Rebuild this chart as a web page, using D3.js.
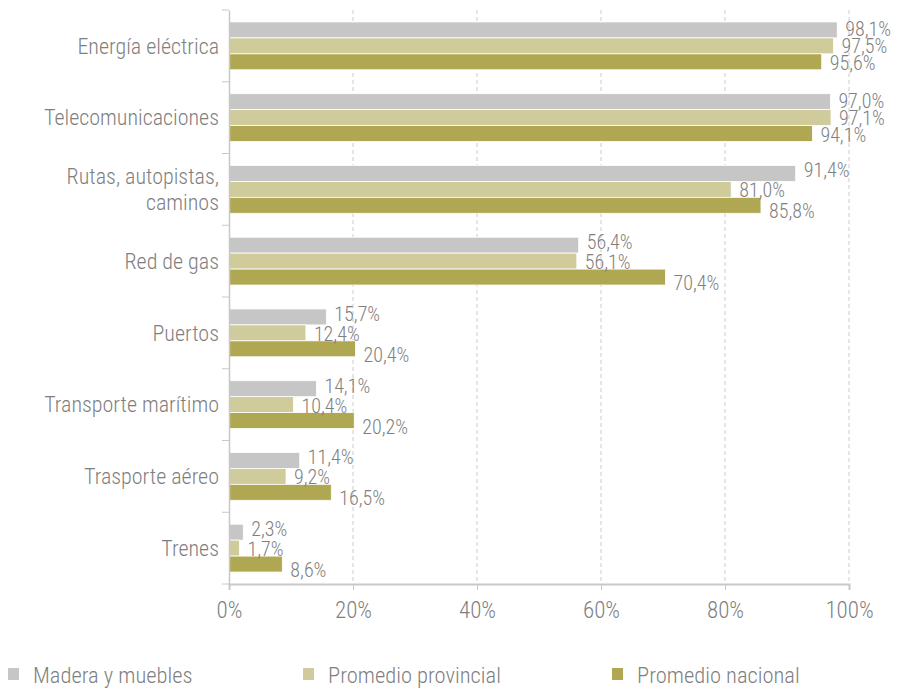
<!DOCTYPE html>
<html><head><meta charset="utf-8">
<script src="https://cdn.jsdelivr.net/npm/d3@7"></script>
<style>
body{margin:0;background:#fff;}
text{font-family:"Roboto Condensed","Liberation Sans Narrow","DejaVu Sans Condensed",sans-serif;fill:#7f7f7f;font-weight:300;}
</style></head><body>
<svg id="c" width="902" height="691"></svg>
<script>
const categories = ["Energía eléctrica","Telecomunicaciones","Rutas, autopistas, caminos","Red de gas","Puertos","Transporte marítimo","Trasporte aéreo","Trenes"];
const seriesNames = ["Madera y muebles","Promedio provincial","Promedio nacional"];
const madera = [98.1,97.0,91.4,56.4,15.7,14.1,11.4,2.3];
const provincial = [97.5,97.1,81.0,56.1,12.4,10.4,9.2,1.7];
const nacional = [95.6,94.1,85.8,70.4,20.4,20.2,16.5,8.6];
const ticks = [0,20,40,60,80,100];
const colors = ["#c6c6c6","#cfcb9b","#b0a752"];
const allSeries = [madera, provincial, nacional];
const FONT = '"Roboto Condensed","Liberation Sans Narrow","DejaVu Sans Condensed",sans-serif';

const svg = d3.select("#c");
const x = d3.scaleLinear().domain([0,100]).range([229,849]);
const y = d3.scaleBand().domain(categories).range([10,584]).paddingInner(0).paddingOuter(0);
const inner = d3.scaleBand().domain([0,1,2]).range([0,y.bandwidth()]).paddingInner(0).paddingOuter(0.75);

// gridlines
svg.append("g").selectAll("line").data(ticks.slice(1)).join("line")
  .attr("x1",d=>x(d)).attr("x2",d=>x(d)).attr("y1",10).attr("y2",584)
  .attr("stroke","#cccccc").attr("stroke-width",1).attr("stroke-dasharray","4,3");

// bars
categories.forEach((c,i)=>{
  allSeries.forEach((s,j)=>{
    svg.append("rect").attr("x",x(0)).attr("y",y(c)+inner(j))
      .attr("width",x(s[i])-x(0)).attr("height",inner.bandwidth())
      .attr("fill",colors[j]).attr("stroke","#fff").attr("stroke-width",0.8);
  });
});

// value labels
categories.forEach((c,i)=>{
  allSeries.forEach((s,j)=>{
    const off = i<2 ? (j-1) : (j===0?-3:(j===2?6:1));
    svg.append("text").attr("x",x(s[i])+8).attr("y",y(c)+inner(j)+inner.bandwidth()/2+off)
      .attr("dy","0.35em").attr("font-size",20).text(s[i].toFixed(1).replace(".",",")+"%");
  });
});

// left axis
const yAxis = svg.append("g").attr("transform","translate(229,0)")
  .call(d3.axisLeft(y).tickSize(0).tickFormat(""));
yAxis.select(".domain").attr("stroke","#c8c8c8").attr("stroke-width",1.5);
// band boundary ticks
svg.append("g").selectAll("line").data(d3.range(categories.length+1)).join("line")
  .attr("x1",222).attr("x2",229).attr("y1",d=>10+d*y.bandwidth()).attr("y2",d=>10+d*y.bandwidth())
  .attr("stroke","#c8c8c8").attr("stroke-width",1);

// category labels
categories.forEach(c=>{
  const t = svg.append("text").attr("text-anchor","end").attr("font-size",22)
    .attr("x",219).attr("y",y(c)+y.bandwidth()/2);
  if(c==="Rutas, autopistas, caminos"){
    t.append("tspan").attr("x",219).attr("dy","-0.25em").text("Rutas, autopistas,");
    t.append("tspan").attr("x",219).attr("dy","1.2em").text("caminos");
  } else {
    t.attr("dy","0.35em").text(c);
  }
});

// bottom axis
const xAxis = svg.append("g").attr("transform","translate(0,584)")
  .call(d3.axisBottom(x).tickValues(ticks).tickSize(6).tickFormat(d=>d+"%"));
xAxis.select(".domain").attr("stroke","#c8c8c8").attr("stroke-width",2);
xAxis.selectAll(".tick line").attr("stroke","#c8c8c8");
xAxis.selectAll(".tick text").attr("font-size",23).attr("dy","1.1em").attr("fill","#7f7f7f")
  .style("font-family",FONT).style("font-weight",300);

// legend
const legX = [8,303,612];
seriesNames.forEach((n,j)=>{
  svg.append("rect").attr("x",legX[j]).attr("y",668).attr("width",11).attr("height",12).attr("fill",colors[j]);
  svg.append("text").attr("x",legX[j]+25).attr("y",675).attr("dy","0.35em").attr("font-size",22.5).text(n);
});
</script>
</body></html>
